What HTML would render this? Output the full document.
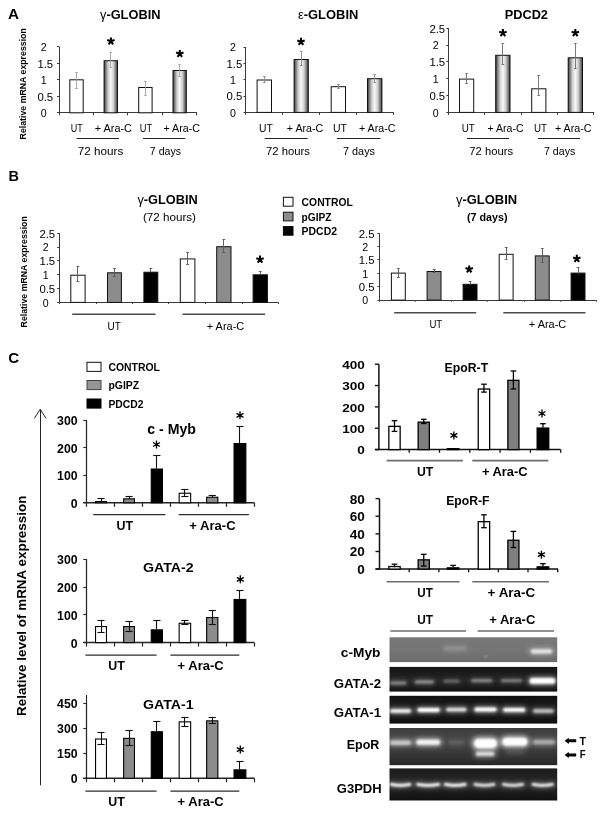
<!DOCTYPE html>
<html><head><meta charset="utf-8"><title>Figure</title>
<style>
html,body{margin:0;padding:0;background:#fff;}
body{width:604px;height:815px;overflow:hidden;font-family:"Liberation Sans",sans-serif;}
svg{display:block;font-family:"Liberation Sans",sans-serif;opacity:0.999;}
</style></head><body>
<svg width="604" height="815" viewBox="0 0 604 815">
<defs>
<linearGradient id="gb" x1="0" x2="1" y1="0" y2="0">
<stop offset="0" stop-color="#303030"/><stop offset="0.1" stop-color="#707070"/><stop offset="0.3" stop-color="#cfcfcf"/><stop offset="0.5" stop-color="#f8f8f8"/><stop offset="0.7" stop-color="#cfcfcf"/><stop offset="0.9" stop-color="#707070"/><stop offset="1" stop-color="#303030"/>
</linearGradient>
<filter id="b1" filterUnits="userSpaceOnUse" x="380" y="630" width="190" height="180"><feGaussianBlur stdDeviation="1.3 0.9"/></filter>
<filter id="b2" filterUnits="userSpaceOnUse" x="380" y="630" width="190" height="180"><feGaussianBlur stdDeviation="1.8 1.3"/></filter>
<filter id="b3" filterUnits="userSpaceOnUse" x="380" y="630" width="190" height="180"><feGaussianBlur stdDeviation="2.4 1.9"/></filter>
<linearGradient id="ge" x1="0" x2="0" y1="0" y2="1">
<stop offset="0" stop-color="#3e3e3e"/><stop offset="0.35" stop-color="#474747"/><stop offset="0.75" stop-color="#343434"/><stop offset="1" stop-color="#262626"/>
</linearGradient>
<linearGradient id="gs1" x1="0" x2="0" y1="0" y2="1">
<stop offset="0" stop-color="#787878"/><stop offset="0.5" stop-color="#757575"/><stop offset="1" stop-color="#6c6c6c"/>
</linearGradient>
<linearGradient id="gs2" x1="0" x2="0" y1="0" y2="1">
<stop offset="0" stop-color="#141414"/><stop offset="0.55" stop-color="#242424"/><stop offset="1" stop-color="#131313"/>
</linearGradient>
<linearGradient id="gs3" x1="0" x2="0" y1="0" y2="1">
<stop offset="0" stop-color="#101010"/><stop offset="0.5" stop-color="#1e1e1e"/><stop offset="1" stop-color="#0e0e0e"/>
</linearGradient>
<linearGradient id="gs5" x1="0" x2="0" y1="0" y2="1">
<stop offset="0" stop-color="#1a1a1a"/><stop offset="0.5" stop-color="#2a2a2a"/><stop offset="1" stop-color="#0f0f0f"/>
</linearGradient>
</defs>
<rect x="0" y="0" width="604" height="815" fill="#ffffff"/>

<text x="8.00" y="19.20" font-size="14.7" font-weight="bold" text-anchor="start" textLength="11.00" lengthAdjust="spacingAndGlyphs" fill="#000" >A</text>
<text x="8.60" y="181.40" font-size="14.7" font-weight="bold" text-anchor="start" textLength="10.50" lengthAdjust="spacingAndGlyphs" fill="#000" >B</text>
<text x="8.30" y="363.00" font-size="14.7" font-weight="bold" text-anchor="start" textLength="10.90" lengthAdjust="spacingAndGlyphs" fill="#000" >C</text>
<line x1="59.50" y1="46.60" x2="59.50" y2="112.80" stroke="#3a3a3a" stroke-width="1" />
<line x1="59.00" y1="112.50" x2="197.00" y2="112.50" stroke="#3a3a3a" stroke-width="1" />
<line x1="57.00" y1="112.50" x2="59.00" y2="112.50" stroke="#3a3a3a" stroke-width="1" />
<text x="40.80" y="117.15" font-size="10.9" text-anchor="start" textLength="5.90" lengthAdjust="spacingAndGlyphs" fill="#000" >0</text>
<line x1="57.00" y1="96.50" x2="59.00" y2="96.50" stroke="#3a3a3a" stroke-width="1" />
<text x="37.40" y="100.60" font-size="10.9" text-anchor="start" textLength="15.80" lengthAdjust="spacingAndGlyphs" fill="#000" >0.5</text>
<line x1="57.00" y1="79.50" x2="59.00" y2="79.50" stroke="#3a3a3a" stroke-width="1" />
<text x="40.80" y="84.05" font-size="10.9" text-anchor="start" textLength="5.90" lengthAdjust="spacingAndGlyphs" fill="#000" >1</text>
<line x1="57.00" y1="63.50" x2="59.00" y2="63.50" stroke="#3a3a3a" stroke-width="1" />
<text x="37.40" y="67.50" font-size="10.9" text-anchor="start" textLength="15.80" lengthAdjust="spacingAndGlyphs" fill="#000" >1.5</text>
<line x1="57.00" y1="46.50" x2="59.00" y2="46.50" stroke="#3a3a3a" stroke-width="1" />
<text x="40.80" y="50.95" font-size="10.9" text-anchor="start" textLength="5.90" lengthAdjust="spacingAndGlyphs" fill="#000" >2</text>
<line x1="59.50" y1="112.80" x2="59.50" y2="115.30" stroke="#3a3a3a" stroke-width="1" />
<line x1="93.50" y1="112.80" x2="93.50" y2="115.30" stroke="#3a3a3a" stroke-width="1" />
<line x1="127.50" y1="112.80" x2="127.50" y2="115.30" stroke="#3a3a3a" stroke-width="1" />
<line x1="162.50" y1="112.80" x2="162.50" y2="115.30" stroke="#3a3a3a" stroke-width="1" />
<line x1="196.50" y1="112.80" x2="196.50" y2="115.30" stroke="#3a3a3a" stroke-width="1" />
<rect x="69.80" y="79.80" width="13.40" height="33.00" fill="#fff" stroke="#111" stroke-width="1" />
<line x1="76.50" y1="72.10" x2="76.50" y2="88.90" stroke="#a2a2a2" stroke-width="0.9" />
<line x1="75.20" y1="72.50" x2="77.80" y2="72.50" stroke="#a2a2a2" stroke-width="0.9" />
<line x1="75.20" y1="88.50" x2="77.80" y2="88.50" stroke="#a2a2a2" stroke-width="0.9" />
<rect x="104.10" y="60.70" width="13.40" height="52.10" fill="url(#gb)" stroke="#111" stroke-width="1" />
<line x1="110.50" y1="52.30" x2="110.50" y2="67.50" stroke="#a2a2a2" stroke-width="0.9" />
<line x1="109.50" y1="52.50" x2="112.10" y2="52.50" stroke="#a2a2a2" stroke-width="0.9" />
<line x1="109.50" y1="67.50" x2="112.10" y2="67.50" stroke="#a2a2a2" stroke-width="0.9" />
<rect x="138.70" y="87.50" width="13.40" height="25.30" fill="#fff" stroke="#111" stroke-width="1" />
<line x1="145.50" y1="81.80" x2="145.50" y2="95.00" stroke="#a2a2a2" stroke-width="0.9" />
<line x1="144.10" y1="81.50" x2="146.70" y2="81.50" stroke="#a2a2a2" stroke-width="0.9" />
<line x1="144.10" y1="95.50" x2="146.70" y2="95.50" stroke="#a2a2a2" stroke-width="0.9" />
<rect x="173.00" y="70.50" width="13.30" height="42.30" fill="url(#gb)" stroke="#111" stroke-width="1" />
<line x1="179.50" y1="64.60" x2="179.50" y2="76.80" stroke="#a2a2a2" stroke-width="0.9" />
<line x1="178.35" y1="64.50" x2="180.95" y2="64.50" stroke="#a2a2a2" stroke-width="0.9" />
<line x1="178.35" y1="76.50" x2="180.95" y2="76.50" stroke="#a2a2a2" stroke-width="0.9" />
<text x="70.80" y="131.70" font-size="10.3" text-anchor="start" textLength="12.00" lengthAdjust="spacingAndGlyphs" fill="#000" >UT</text>
<text x="94.70" y="131.70" font-size="10.3" text-anchor="start" textLength="37.30" lengthAdjust="spacingAndGlyphs" fill="#000" >+ Ara-C</text>
<text x="139.80" y="131.70" font-size="10.3" text-anchor="start" textLength="12.40" lengthAdjust="spacingAndGlyphs" fill="#000" >UT</text>
<text x="163.40" y="131.70" font-size="10.3" text-anchor="start" textLength="36.60" lengthAdjust="spacingAndGlyphs" fill="#000" >+ Ara-C</text>
<line x1="76.80" y1="138.50" x2="119.00" y2="138.50" stroke="#222" stroke-width="1" />
<line x1="143.00" y1="138.50" x2="185.30" y2="138.50" stroke="#222" stroke-width="1" />
<text x="77.80" y="154.50" font-size="10.3" text-anchor="start" textLength="45.50" lengthAdjust="spacingAndGlyphs" fill="#000" >72 hours</text>
<text x="149.80" y="154.50" font-size="10.3" text-anchor="start" textLength="31.20" lengthAdjust="spacingAndGlyphs" fill="#000" >7 days</text>
<text x="100.00" y="19.10" font-size="12.6" font-weight="bold" text-anchor="start" textLength="60.50" lengthAdjust="spacingAndGlyphs" fill="#000" ><tspan font-weight="normal">&#947;</tspan>-GLOBIN</text>
<path d="M110.90,41.30L110.90,37.40M110.90,41.30L114.61,40.09M110.90,41.30L113.19,44.46M110.90,41.30L108.61,44.46M110.90,41.30L107.19,40.09" stroke="#000" stroke-width="2.05" stroke-linecap="butt" fill="none"/>
<path d="M179.80,53.80L179.80,49.90M179.80,53.80L183.51,52.59M179.80,53.80L182.09,56.96M179.80,53.80L177.51,56.96M179.80,53.80L176.09,52.59" stroke="#000" stroke-width="2.05" stroke-linecap="butt" fill="none"/>
<line x1="245.50" y1="47.00" x2="245.50" y2="112.40" stroke="#3a3a3a" stroke-width="1" />
<line x1="245.50" y1="112.50" x2="393.70" y2="112.50" stroke="#3a3a3a" stroke-width="1" />
<line x1="243.50" y1="112.50" x2="245.50" y2="112.50" stroke="#3a3a3a" stroke-width="1" />
<text x="229.90" y="116.75" font-size="10.9" text-anchor="start" textLength="5.90" lengthAdjust="spacingAndGlyphs" fill="#000" >0</text>
<line x1="243.50" y1="96.50" x2="245.50" y2="96.50" stroke="#3a3a3a" stroke-width="1" />
<text x="226.50" y="100.40" font-size="10.9" text-anchor="start" textLength="15.80" lengthAdjust="spacingAndGlyphs" fill="#000" >0.5</text>
<line x1="243.50" y1="79.50" x2="245.50" y2="79.50" stroke="#3a3a3a" stroke-width="1" />
<text x="229.90" y="84.05" font-size="10.9" text-anchor="start" textLength="5.90" lengthAdjust="spacingAndGlyphs" fill="#000" >1</text>
<line x1="243.50" y1="63.50" x2="245.50" y2="63.50" stroke="#3a3a3a" stroke-width="1" />
<text x="226.50" y="67.70" font-size="10.9" text-anchor="start" textLength="15.80" lengthAdjust="spacingAndGlyphs" fill="#000" >1.5</text>
<line x1="243.50" y1="47.50" x2="245.50" y2="47.50" stroke="#3a3a3a" stroke-width="1" />
<text x="229.90" y="51.35" font-size="10.9" text-anchor="start" textLength="5.90" lengthAdjust="spacingAndGlyphs" fill="#000" >2</text>
<line x1="245.50" y1="112.40" x2="245.50" y2="114.90" stroke="#3a3a3a" stroke-width="1" />
<line x1="282.50" y1="112.40" x2="282.50" y2="114.90" stroke="#3a3a3a" stroke-width="1" />
<line x1="319.50" y1="112.40" x2="319.50" y2="114.90" stroke="#3a3a3a" stroke-width="1" />
<line x1="356.50" y1="112.40" x2="356.50" y2="114.90" stroke="#3a3a3a" stroke-width="1" />
<line x1="393.50" y1="112.40" x2="393.50" y2="114.90" stroke="#3a3a3a" stroke-width="1" />
<rect x="257.10" y="80.00" width="14.40" height="32.40" fill="#fff" stroke="#111" stroke-width="1" />
<line x1="264.50" y1="76.50" x2="264.50" y2="82.50" stroke="#8a8a8a" stroke-width="0.9" />
<line x1="263.00" y1="76.50" x2="265.60" y2="76.50" stroke="#8a8a8a" stroke-width="0.9" />
<line x1="263.00" y1="82.50" x2="265.60" y2="82.50" stroke="#8a8a8a" stroke-width="0.9" />
<rect x="294.10" y="59.50" width="14.20" height="52.90" fill="url(#gb)" stroke="#111" stroke-width="1" />
<line x1="301.50" y1="51.50" x2="301.50" y2="65.00" stroke="#8a8a8a" stroke-width="0.9" />
<line x1="299.90" y1="51.50" x2="302.50" y2="51.50" stroke="#8a8a8a" stroke-width="0.9" />
<line x1="299.90" y1="65.50" x2="302.50" y2="65.50" stroke="#8a8a8a" stroke-width="0.9" />
<rect x="331.20" y="86.70" width="14.30" height="25.70" fill="#fff" stroke="#111" stroke-width="1" />
<line x1="338.50" y1="84.00" x2="338.50" y2="88.50" stroke="#8a8a8a" stroke-width="0.9" />
<line x1="337.05" y1="84.50" x2="339.65" y2="84.50" stroke="#8a8a8a" stroke-width="0.9" />
<line x1="337.05" y1="88.50" x2="339.65" y2="88.50" stroke="#8a8a8a" stroke-width="0.9" />
<rect x="367.50" y="78.70" width="14.40" height="33.70" fill="url(#gb)" stroke="#111" stroke-width="1" />
<line x1="374.50" y1="74.00" x2="374.50" y2="82.00" stroke="#8a8a8a" stroke-width="0.9" />
<line x1="373.40" y1="74.50" x2="376.00" y2="74.50" stroke="#8a8a8a" stroke-width="0.9" />
<line x1="373.40" y1="82.50" x2="376.00" y2="82.50" stroke="#8a8a8a" stroke-width="0.9" />
<text x="259.00" y="131.70" font-size="10.3" text-anchor="start" textLength="13.80" lengthAdjust="spacingAndGlyphs" fill="#000" >UT</text>
<text x="286.80" y="131.70" font-size="10.3" text-anchor="start" textLength="36.40" lengthAdjust="spacingAndGlyphs" fill="#000" >+ Ara-C</text>
<text x="333.00" y="131.70" font-size="10.3" text-anchor="start" textLength="14.00" lengthAdjust="spacingAndGlyphs" fill="#000" >UT</text>
<text x="359.00" y="131.70" font-size="10.3" text-anchor="start" textLength="36.40" lengthAdjust="spacingAndGlyphs" fill="#000" >+ Ara-C</text>
<line x1="264.60" y1="138.50" x2="307.60" y2="138.50" stroke="#222" stroke-width="1" />
<line x1="336.80" y1="138.50" x2="380.50" y2="138.50" stroke="#222" stroke-width="1" />
<text x="266.00" y="154.50" font-size="10.3" text-anchor="start" textLength="44.00" lengthAdjust="spacingAndGlyphs" fill="#000" >72 hours</text>
<text x="343.00" y="154.50" font-size="10.3" text-anchor="start" textLength="32.00" lengthAdjust="spacingAndGlyphs" fill="#000" >7 days</text>
<text x="298.00" y="19.10" font-size="12.6" font-weight="bold" text-anchor="start" textLength="60.30" lengthAdjust="spacingAndGlyphs" fill="#000" ><tspan font-weight="normal">&#949;</tspan>-GLOBIN</text>
<path d="M301.00,41.70L301.00,37.80M301.00,41.70L304.71,40.49M301.00,41.70L303.29,44.86M301.00,41.70L298.71,44.86M301.00,41.70L297.29,40.49" stroke="#000" stroke-width="2.05" stroke-linecap="butt" fill="none"/>
<line x1="448.50" y1="28.20" x2="448.50" y2="112.40" stroke="#3a3a3a" stroke-width="1" />
<line x1="448.40" y1="112.50" x2="594.20" y2="112.50" stroke="#3a3a3a" stroke-width="1" />
<line x1="446.40" y1="112.50" x2="448.40" y2="112.50" stroke="#3a3a3a" stroke-width="1" />
<text x="432.80" y="116.75" font-size="10.9" text-anchor="start" textLength="5.90" lengthAdjust="spacingAndGlyphs" fill="#000" >0</text>
<line x1="446.40" y1="95.50" x2="448.40" y2="95.50" stroke="#3a3a3a" stroke-width="1" />
<text x="429.40" y="99.91" font-size="10.9" text-anchor="start" textLength="15.80" lengthAdjust="spacingAndGlyphs" fill="#000" >0.5</text>
<line x1="446.40" y1="78.50" x2="448.40" y2="78.50" stroke="#3a3a3a" stroke-width="1" />
<text x="432.80" y="83.07" font-size="10.9" text-anchor="start" textLength="5.90" lengthAdjust="spacingAndGlyphs" fill="#000" >1</text>
<line x1="446.40" y1="61.50" x2="448.40" y2="61.50" stroke="#3a3a3a" stroke-width="1" />
<text x="429.40" y="66.23" font-size="10.9" text-anchor="start" textLength="15.80" lengthAdjust="spacingAndGlyphs" fill="#000" >1.5</text>
<line x1="446.40" y1="45.50" x2="448.40" y2="45.50" stroke="#3a3a3a" stroke-width="1" />
<text x="432.80" y="49.39" font-size="10.9" text-anchor="start" textLength="5.90" lengthAdjust="spacingAndGlyphs" fill="#000" >2</text>
<line x1="446.40" y1="28.50" x2="448.40" y2="28.50" stroke="#3a3a3a" stroke-width="1" />
<text x="429.40" y="32.55" font-size="10.9" text-anchor="start" textLength="15.80" lengthAdjust="spacingAndGlyphs" fill="#000" >2.5</text>
<line x1="448.50" y1="112.40" x2="448.50" y2="114.90" stroke="#3a3a3a" stroke-width="1" />
<line x1="484.50" y1="112.40" x2="484.50" y2="114.90" stroke="#3a3a3a" stroke-width="1" />
<line x1="521.50" y1="112.40" x2="521.50" y2="114.90" stroke="#3a3a3a" stroke-width="1" />
<line x1="557.50" y1="112.40" x2="557.50" y2="114.90" stroke="#3a3a3a" stroke-width="1" />
<line x1="593.50" y1="112.40" x2="593.50" y2="114.90" stroke="#3a3a3a" stroke-width="1" />
<rect x="459.50" y="79.10" width="14.20" height="33.30" fill="#fff" stroke="#111" stroke-width="1" />
<line x1="466.50" y1="73.00" x2="466.50" y2="83.80" stroke="#6c6c6c" stroke-width="0.9" />
<line x1="465.30" y1="73.50" x2="467.90" y2="73.50" stroke="#6c6c6c" stroke-width="0.9" />
<line x1="465.30" y1="83.50" x2="467.90" y2="83.50" stroke="#6c6c6c" stroke-width="0.9" />
<rect x="495.70" y="55.30" width="14.30" height="57.10" fill="url(#gb)" stroke="#111" stroke-width="1" />
<line x1="502.50" y1="43.60" x2="502.50" y2="64.00" stroke="#6c6c6c" stroke-width="0.9" />
<line x1="501.55" y1="43.50" x2="504.15" y2="43.50" stroke="#6c6c6c" stroke-width="0.9" />
<line x1="501.55" y1="64.50" x2="504.15" y2="64.50" stroke="#6c6c6c" stroke-width="0.9" />
<rect x="531.70" y="88.80" width="14.20" height="23.60" fill="#fff" stroke="#111" stroke-width="1" />
<line x1="538.50" y1="75.00" x2="538.50" y2="95.00" stroke="#6c6c6c" stroke-width="0.9" />
<line x1="537.50" y1="75.50" x2="540.10" y2="75.50" stroke="#6c6c6c" stroke-width="0.9" />
<line x1="537.50" y1="95.50" x2="540.10" y2="95.50" stroke="#6c6c6c" stroke-width="0.9" />
<rect x="568.20" y="57.80" width="14.30" height="54.60" fill="url(#gb)" stroke="#111" stroke-width="1" />
<line x1="575.50" y1="43.60" x2="575.50" y2="68.50" stroke="#6c6c6c" stroke-width="0.9" />
<line x1="574.05" y1="43.50" x2="576.65" y2="43.50" stroke="#6c6c6c" stroke-width="0.9" />
<line x1="574.05" y1="68.50" x2="576.65" y2="68.50" stroke="#6c6c6c" stroke-width="0.9" />
<text x="461.70" y="131.70" font-size="10.3" text-anchor="start" textLength="13.10" lengthAdjust="spacingAndGlyphs" fill="#000" >UT</text>
<text x="487.60" y="131.70" font-size="10.3" text-anchor="start" textLength="36.00" lengthAdjust="spacingAndGlyphs" fill="#000" >+ Ara-C</text>
<text x="534.00" y="131.70" font-size="10.3" text-anchor="start" textLength="13.00" lengthAdjust="spacingAndGlyphs" fill="#000" >UT</text>
<text x="555.00" y="131.70" font-size="10.3" text-anchor="start" textLength="36.50" lengthAdjust="spacingAndGlyphs" fill="#000" >+ Ara-C</text>
<line x1="467.00" y1="138.50" x2="509.00" y2="138.50" stroke="#222" stroke-width="1" />
<line x1="538.00" y1="138.50" x2="580.00" y2="138.50" stroke="#222" stroke-width="1" />
<text x="469.30" y="154.50" font-size="10.3" text-anchor="start" textLength="43.70" lengthAdjust="spacingAndGlyphs" fill="#000" >72 hours</text>
<text x="544.00" y="154.50" font-size="10.3" text-anchor="start" textLength="31.30" lengthAdjust="spacingAndGlyphs" fill="#000" >7 days</text>
<text x="504.70" y="18.60" font-size="12.6" font-weight="bold" text-anchor="start" textLength="43.30" lengthAdjust="spacingAndGlyphs" fill="#000" >PDCD2</text>
<path d="M502.90,32.90L502.90,29.00M502.90,32.90L506.61,31.69M502.90,32.90L505.19,36.06M502.90,32.90L500.61,36.06M502.90,32.90L499.19,31.69" stroke="#000" stroke-width="2.05" stroke-linecap="butt" fill="none"/>
<path d="M575.30,32.90L575.30,29.00M575.30,32.90L579.01,31.69M575.30,32.90L577.59,36.06M575.30,32.90L573.01,36.06M575.30,32.90L571.59,31.69" stroke="#000" stroke-width="2.05" stroke-linecap="butt" fill="none"/>
<text transform="translate(26.30,139.40) rotate(-90)" font-size="8.7" font-weight="bold" textLength="111.20" lengthAdjust="spacingAndGlyphs" fill="#000">Relative mRNA expression</text>
<text transform="translate(27.00,327.40) rotate(-90)" font-size="8.7" font-weight="bold" textLength="111.20" lengthAdjust="spacingAndGlyphs" fill="#000">Relative mRNA expression</text>
<line x1="59.50" y1="233.20" x2="59.50" y2="302.40" stroke="#3a3a3a" stroke-width="1" />
<line x1="59.20" y1="302.50" x2="278.50" y2="302.50" stroke="#3a3a3a" stroke-width="1" />
<line x1="57.20" y1="302.50" x2="59.20" y2="302.50" stroke="#3a3a3a" stroke-width="1" />
<text x="42.80" y="306.75" font-size="10.9" text-anchor="start" textLength="5.90" lengthAdjust="spacingAndGlyphs" fill="#000" >0</text>
<line x1="57.20" y1="288.50" x2="59.20" y2="288.50" stroke="#3a3a3a" stroke-width="1" />
<text x="39.40" y="292.91" font-size="10.9" text-anchor="start" textLength="15.80" lengthAdjust="spacingAndGlyphs" fill="#000" >0.5</text>
<line x1="57.20" y1="274.50" x2="59.20" y2="274.50" stroke="#3a3a3a" stroke-width="1" />
<text x="42.80" y="279.07" font-size="10.9" text-anchor="start" textLength="5.90" lengthAdjust="spacingAndGlyphs" fill="#000" >1</text>
<line x1="57.20" y1="260.50" x2="59.20" y2="260.50" stroke="#3a3a3a" stroke-width="1" />
<text x="39.40" y="265.23" font-size="10.9" text-anchor="start" textLength="15.80" lengthAdjust="spacingAndGlyphs" fill="#000" >1.5</text>
<line x1="57.20" y1="247.50" x2="59.20" y2="247.50" stroke="#3a3a3a" stroke-width="1" />
<text x="42.80" y="251.39" font-size="10.9" text-anchor="start" textLength="5.90" lengthAdjust="spacingAndGlyphs" fill="#000" >2</text>
<line x1="57.20" y1="233.50" x2="59.20" y2="233.50" stroke="#3a3a3a" stroke-width="1" />
<text x="39.40" y="237.55" font-size="10.9" text-anchor="start" textLength="15.80" lengthAdjust="spacingAndGlyphs" fill="#000" >2.5</text>
<line x1="59.50" y1="302.40" x2="59.50" y2="304.00" stroke="#3a3a3a" stroke-width="1" />
<line x1="96.50" y1="302.40" x2="96.50" y2="304.00" stroke="#3a3a3a" stroke-width="1" />
<line x1="132.50" y1="302.40" x2="132.50" y2="304.00" stroke="#3a3a3a" stroke-width="1" />
<line x1="168.50" y1="302.40" x2="168.50" y2="304.00" stroke="#3a3a3a" stroke-width="1" />
<line x1="205.50" y1="302.40" x2="205.50" y2="304.00" stroke="#3a3a3a" stroke-width="1" />
<line x1="242.50" y1="302.40" x2="242.50" y2="304.00" stroke="#3a3a3a" stroke-width="1" />
<line x1="278.50" y1="302.40" x2="278.50" y2="304.00" stroke="#3a3a3a" stroke-width="1" />
<rect x="70.80" y="275.20" width="14.30" height="27.20" fill="#fff" stroke="#111" stroke-width="1" />
<line x1="77.50" y1="266.00" x2="77.50" y2="281.00" stroke="#5c5c5c" stroke-width="0.95" />
<line x1="76.55" y1="266.50" x2="79.35" y2="266.50" stroke="#5c5c5c" stroke-width="0.95" />
<line x1="76.55" y1="281.50" x2="79.35" y2="281.50" stroke="#5c5c5c" stroke-width="0.95" />
<rect x="107.50" y="272.80" width="13.90" height="29.60" fill="#8c8c8c" stroke="#111" stroke-width="1" />
<line x1="114.50" y1="268.50" x2="114.50" y2="276.00" stroke="#5c5c5c" stroke-width="0.95" />
<line x1="113.05" y1="268.50" x2="115.85" y2="268.50" stroke="#5c5c5c" stroke-width="0.95" />
<line x1="113.05" y1="276.50" x2="115.85" y2="276.50" stroke="#5c5c5c" stroke-width="0.95" />
<rect x="143.90" y="272.20" width="13.90" height="30.20" fill="#000" stroke="#111" stroke-width="1" />
<line x1="150.50" y1="268.30" x2="150.50" y2="272.00" stroke="#5c5c5c" stroke-width="0.95" />
<line x1="149.45" y1="268.50" x2="152.25" y2="268.50" stroke="#5c5c5c" stroke-width="0.95" />
<rect x="180.30" y="258.90" width="14.60" height="43.50" fill="#fff" stroke="#111" stroke-width="1" />
<line x1="187.50" y1="252.50" x2="187.50" y2="264.50" stroke="#5c5c5c" stroke-width="0.95" />
<line x1="186.20" y1="252.50" x2="189.00" y2="252.50" stroke="#5c5c5c" stroke-width="0.95" />
<line x1="186.20" y1="264.50" x2="189.00" y2="264.50" stroke="#5c5c5c" stroke-width="0.95" />
<rect x="216.70" y="246.70" width="14.30" height="55.70" fill="#8c8c8c" stroke="#111" stroke-width="1" />
<line x1="223.50" y1="239.50" x2="223.50" y2="252.00" stroke="#5c5c5c" stroke-width="0.95" />
<line x1="222.45" y1="239.50" x2="225.25" y2="239.50" stroke="#5c5c5c" stroke-width="0.95" />
<line x1="222.45" y1="252.50" x2="225.25" y2="252.50" stroke="#5c5c5c" stroke-width="0.95" />
<rect x="253.10" y="274.80" width="14.30" height="27.60" fill="#000" stroke="#111" stroke-width="1" />
<line x1="260.50" y1="271.30" x2="260.50" y2="275.00" stroke="#5c5c5c" stroke-width="0.95" />
<line x1="258.85" y1="271.50" x2="261.65" y2="271.50" stroke="#5c5c5c" stroke-width="0.95" />
<line x1="72.20" y1="314.30" x2="155.60" y2="314.30" stroke="#4a4a4a" stroke-width="1.4" />
<line x1="182.50" y1="314.30" x2="265.00" y2="314.30" stroke="#4a4a4a" stroke-width="1.4" />
<text x="107.60" y="329.60" font-size="10.3" text-anchor="start" textLength="13.30" lengthAdjust="spacingAndGlyphs" fill="#000" >UT</text>
<text x="206.80" y="329.60" font-size="10.3" text-anchor="start" textLength="37.40" lengthAdjust="spacingAndGlyphs" fill="#000" >+ Ara-C</text>
<path d="M260.00,259.40L260.00,255.50M260.00,259.40L263.71,258.19M260.00,259.40L262.29,262.56M260.00,259.40L257.71,262.56M260.00,259.40L256.29,258.19" stroke="#000" stroke-width="2.05" stroke-linecap="butt" fill="none"/>
<text x="137.40" y="204.30" font-size="12.6" font-weight="bold" text-anchor="start" textLength="60.30" lengthAdjust="spacingAndGlyphs" fill="#000" ><tspan font-weight="normal">&#947;</tspan>-GLOBIN</text>
<text x="143.00" y="221.00" font-size="10.6" text-anchor="start" textLength="53.00" lengthAdjust="spacingAndGlyphs" fill="#000" >(72 hours)</text>
<line x1="379.50" y1="233.20" x2="379.50" y2="300.10" stroke="#3a3a3a" stroke-width="1" />
<line x1="379.40" y1="300.50" x2="596.00" y2="300.50" stroke="#3a3a3a" stroke-width="1" />
<line x1="377.40" y1="300.50" x2="379.40" y2="300.50" stroke="#3a3a3a" stroke-width="1" />
<text x="362.20" y="304.45" font-size="10.9" text-anchor="start" textLength="5.90" lengthAdjust="spacingAndGlyphs" fill="#000" >0</text>
<line x1="377.40" y1="286.50" x2="379.40" y2="286.50" stroke="#3a3a3a" stroke-width="1" />
<text x="358.80" y="291.07" font-size="10.9" text-anchor="start" textLength="15.80" lengthAdjust="spacingAndGlyphs" fill="#000" >0.5</text>
<line x1="377.40" y1="273.50" x2="379.40" y2="273.50" stroke="#3a3a3a" stroke-width="1" />
<text x="362.20" y="277.69" font-size="10.9" text-anchor="start" textLength="5.90" lengthAdjust="spacingAndGlyphs" fill="#000" >1</text>
<line x1="377.40" y1="259.50" x2="379.40" y2="259.50" stroke="#3a3a3a" stroke-width="1" />
<text x="358.80" y="264.31" font-size="10.9" text-anchor="start" textLength="15.80" lengthAdjust="spacingAndGlyphs" fill="#000" >1.5</text>
<line x1="377.40" y1="246.50" x2="379.40" y2="246.50" stroke="#3a3a3a" stroke-width="1" />
<text x="362.20" y="250.93" font-size="10.9" text-anchor="start" textLength="5.90" lengthAdjust="spacingAndGlyphs" fill="#000" >2</text>
<line x1="377.40" y1="233.50" x2="379.40" y2="233.50" stroke="#3a3a3a" stroke-width="1" />
<text x="358.80" y="237.55" font-size="10.9" text-anchor="start" textLength="15.80" lengthAdjust="spacingAndGlyphs" fill="#000" >2.5</text>
<line x1="379.50" y1="300.10" x2="379.50" y2="301.70" stroke="#3a3a3a" stroke-width="1" />
<line x1="415.50" y1="300.10" x2="415.50" y2="301.70" stroke="#3a3a3a" stroke-width="1" />
<line x1="451.50" y1="300.10" x2="451.50" y2="301.70" stroke="#3a3a3a" stroke-width="1" />
<line x1="487.50" y1="300.10" x2="487.50" y2="301.70" stroke="#3a3a3a" stroke-width="1" />
<line x1="524.50" y1="300.10" x2="524.50" y2="301.70" stroke="#3a3a3a" stroke-width="1" />
<line x1="560.50" y1="300.10" x2="560.50" y2="301.70" stroke="#3a3a3a" stroke-width="1" />
<line x1="596.50" y1="300.10" x2="596.50" y2="301.70" stroke="#3a3a3a" stroke-width="1" />
<rect x="391.40" y="273.10" width="13.90" height="27.00" fill="#fff" stroke="#111" stroke-width="1" />
<line x1="398.50" y1="268.50" x2="398.50" y2="277.00" stroke="#5c5c5c" stroke-width="0.95" />
<line x1="396.95" y1="268.50" x2="399.75" y2="268.50" stroke="#5c5c5c" stroke-width="0.95" />
<line x1="396.95" y1="277.50" x2="399.75" y2="277.50" stroke="#5c5c5c" stroke-width="0.95" />
<rect x="427.10" y="271.50" width="13.90" height="28.60" fill="#8c8c8c" stroke="#111" stroke-width="1" />
<line x1="434.50" y1="269.30" x2="434.50" y2="272.70" stroke="#5c5c5c" stroke-width="0.95" />
<line x1="432.65" y1="269.50" x2="435.45" y2="269.50" stroke="#5c5c5c" stroke-width="0.95" />
<line x1="432.65" y1="272.50" x2="435.45" y2="272.50" stroke="#5c5c5c" stroke-width="0.95" />
<rect x="463.10" y="284.30" width="13.90" height="15.80" fill="#000" stroke="#111" stroke-width="1" />
<line x1="470.50" y1="281.00" x2="470.50" y2="285.00" stroke="#5c5c5c" stroke-width="0.95" />
<line x1="468.65" y1="281.50" x2="471.45" y2="281.50" stroke="#5c5c5c" stroke-width="0.95" />
<rect x="499.20" y="254.30" width="13.90" height="45.80" fill="#fff" stroke="#111" stroke-width="1" />
<line x1="506.50" y1="247.50" x2="506.50" y2="259.50" stroke="#5c5c5c" stroke-width="0.95" />
<line x1="504.75" y1="247.50" x2="507.55" y2="247.50" stroke="#5c5c5c" stroke-width="0.95" />
<line x1="504.75" y1="259.50" x2="507.55" y2="259.50" stroke="#5c5c5c" stroke-width="0.95" />
<rect x="535.30" y="255.90" width="13.90" height="44.20" fill="#8c8c8c" stroke="#111" stroke-width="1" />
<line x1="542.50" y1="248.00" x2="542.50" y2="262.50" stroke="#5c5c5c" stroke-width="0.95" />
<line x1="540.85" y1="248.50" x2="543.65" y2="248.50" stroke="#5c5c5c" stroke-width="0.95" />
<line x1="540.85" y1="262.50" x2="543.65" y2="262.50" stroke="#5c5c5c" stroke-width="0.95" />
<rect x="571.10" y="273.10" width="13.90" height="27.00" fill="#000" stroke="#111" stroke-width="1" />
<line x1="578.50" y1="267.50" x2="578.50" y2="274.00" stroke="#5c5c5c" stroke-width="0.95" />
<line x1="576.65" y1="267.50" x2="579.45" y2="267.50" stroke="#5c5c5c" stroke-width="0.95" />
<line x1="394.20" y1="312.80" x2="476.20" y2="312.80" stroke="#4a4a4a" stroke-width="1.4" />
<line x1="503.30" y1="312.80" x2="585.50" y2="312.80" stroke="#4a4a4a" stroke-width="1.4" />
<text x="429.40" y="328.30" font-size="10.3" text-anchor="start" textLength="12.80" lengthAdjust="spacingAndGlyphs" fill="#000" >UT</text>
<text x="528.80" y="328.30" font-size="10.3" text-anchor="start" textLength="37.50" lengthAdjust="spacingAndGlyphs" fill="#000" >+ Ara-C</text>
<path d="M469.20,269.30L469.20,265.40M469.20,269.30L472.91,268.09M469.20,269.30L471.49,272.46M469.20,269.30L466.91,272.46M469.20,269.30L465.49,268.09" stroke="#000" stroke-width="2.05" stroke-linecap="butt" fill="none"/>
<path d="M576.80,258.70L576.80,254.80M576.80,258.70L580.51,257.49M576.80,258.70L579.09,261.86M576.80,258.70L574.51,261.86M576.80,258.70L573.09,257.49" stroke="#000" stroke-width="2.05" stroke-linecap="butt" fill="none"/>
<text x="456.00" y="204.30" font-size="12.6" font-weight="bold" text-anchor="start" textLength="61.20" lengthAdjust="spacingAndGlyphs" fill="#000" ><tspan font-weight="normal">&#947;</tspan>-GLOBIN</text>
<text x="467.00" y="220.80" font-size="10.3" font-weight="bold" text-anchor="start" textLength="40.60" lengthAdjust="spacingAndGlyphs" fill="#000" >(7 days)</text>
<rect x="283.40" y="197.30" width="9.60" height="8.90" fill="#fff" stroke="#111" stroke-width="1" />
<rect x="283.40" y="212.20" width="9.60" height="8.70" fill="#8c8c8c" stroke="#111" stroke-width="1" />
<rect x="283.40" y="226.60" width="9.60" height="8.60" fill="#000" stroke="#000" stroke-width="1" />
<text x="301.60" y="206.00" font-size="10.6" font-weight="bold" text-anchor="start" textLength="51.20" lengthAdjust="spacingAndGlyphs" fill="#000" >CONTROL</text>
<text x="301.60" y="220.60" font-size="10.6" font-weight="bold" text-anchor="start" textLength="30.00" lengthAdjust="spacingAndGlyphs" fill="#000" >pGIPZ</text>
<text x="301.60" y="235.30" font-size="10.6" font-weight="bold" text-anchor="start" textLength="35.40" lengthAdjust="spacingAndGlyphs" fill="#000" >PDCD2</text>
<rect x="87.00" y="362.30" width="14.00" height="9.10" fill="#fff" stroke="#111" stroke-width="1" />
<rect x="87.00" y="380.50" width="14.00" height="9.10" fill="#959595" stroke="#444" stroke-width="1" />
<rect x="87.00" y="399.00" width="14.00" height="9.10" fill="#000" stroke="#000" stroke-width="1" />
<text x="108.40" y="370.60" font-size="11.4" font-weight="bold" text-anchor="start" textLength="51.60" lengthAdjust="spacingAndGlyphs" fill="#000" >CONTROL</text>
<text x="108.40" y="388.80" font-size="11.4" font-weight="bold" text-anchor="start" textLength="30.80" lengthAdjust="spacingAndGlyphs" fill="#000" >pGIPZ</text>
<text x="108.40" y="407.50" font-size="11.4" font-weight="bold" text-anchor="start" textLength="35.00" lengthAdjust="spacingAndGlyphs" fill="#000" >PDCD2</text>
<line x1="40.50" y1="409.30" x2="40.50" y2="785.20" stroke="#222" stroke-width="1" />
<path d="M34.3,418.4 L40.2,409.3 L46,418.4" stroke="#222" stroke-width="1" fill="none"/>
<text transform="translate(25.70,716.00) rotate(-90)" font-size="12.6" font-weight="bold" textLength="220.40" lengthAdjust="spacingAndGlyphs" fill="#000">Relative level of mRNA expression</text>
<line x1="86.50" y1="420.20" x2="86.50" y2="502.80" stroke="#262626" stroke-width="1.25" />
<line x1="83.30" y1="502.80" x2="254.50" y2="502.80" stroke="#262626" stroke-width="1.5" />
<line x1="83.30" y1="502.50" x2="86.80" y2="502.50" stroke="#262626" stroke-width="1.1" />
<text x="77.60" y="507.70" font-size="12.3" font-weight="bold" text-anchor="end" fill="#000" >0</text>
<line x1="83.30" y1="475.50" x2="86.80" y2="475.50" stroke="#262626" stroke-width="1.1" />
<text x="77.60" y="480.17" font-size="12.3" font-weight="bold" text-anchor="end" fill="#000" >100</text>
<line x1="83.30" y1="447.50" x2="86.80" y2="447.50" stroke="#262626" stroke-width="1.1" />
<text x="77.60" y="452.63" font-size="12.3" font-weight="bold" text-anchor="end" fill="#000" >200</text>
<line x1="83.30" y1="420.50" x2="86.80" y2="420.50" stroke="#262626" stroke-width="1.1" />
<text x="77.60" y="425.10" font-size="12.3" font-weight="bold" text-anchor="end" fill="#000" >300</text>
<line x1="86.50" y1="502.80" x2="86.50" y2="506.80" stroke="#262626" stroke-width="1.2" />
<line x1="114.50" y1="502.80" x2="114.50" y2="506.80" stroke="#262626" stroke-width="1.2" />
<line x1="142.50" y1="502.80" x2="142.50" y2="506.80" stroke="#262626" stroke-width="1.2" />
<line x1="170.50" y1="502.80" x2="170.50" y2="506.80" stroke="#262626" stroke-width="1.2" />
<line x1="198.50" y1="502.80" x2="198.50" y2="506.80" stroke="#262626" stroke-width="1.2" />
<line x1="226.50" y1="502.80" x2="226.50" y2="506.80" stroke="#262626" stroke-width="1.2" />
<line x1="254.50" y1="502.80" x2="254.50" y2="506.80" stroke="#262626" stroke-width="1.2" />
<rect x="95.55" y="501.55" width="10.90" height="1.25" fill="#fff" stroke="#000" stroke-width="1.1" />
<line x1="101.50" y1="498.50" x2="101.50" y2="502.00" stroke="#111" stroke-width="1.1" />
<line x1="97.40" y1="498.50" x2="104.60" y2="498.50" stroke="#111" stroke-width="1.1" />
<rect x="123.65" y="498.85" width="10.80" height="3.95" fill="#8c8c8c" stroke="#000" stroke-width="1.1" />
<line x1="129.50" y1="496.50" x2="129.50" y2="499.00" stroke="#111" stroke-width="1.1" />
<line x1="125.45" y1="496.50" x2="132.65" y2="496.50" stroke="#111" stroke-width="1.1" />
<rect x="151.25" y="469.05" width="11.20" height="33.75" fill="#000" stroke="#000" stroke-width="1.1" />
<line x1="156.50" y1="455.60" x2="156.50" y2="468.50" stroke="#111" stroke-width="1.1" />
<line x1="153.25" y1="455.50" x2="160.45" y2="455.50" stroke="#111" stroke-width="1.1" />
<rect x="179.15" y="493.25" width="11.50" height="9.55" fill="#fff" stroke="#000" stroke-width="1.1" />
<line x1="184.50" y1="489.40" x2="184.50" y2="496.70" stroke="#111" stroke-width="1.1" />
<line x1="181.30" y1="489.50" x2="188.50" y2="489.50" stroke="#111" stroke-width="1.1" />
<line x1="181.30" y1="496.50" x2="188.50" y2="496.50" stroke="#111" stroke-width="1.1" />
<rect x="206.65" y="497.25" width="11.20" height="5.55" fill="#8c8c8c" stroke="#000" stroke-width="1.1" />
<line x1="212.50" y1="495.50" x2="212.50" y2="497.50" stroke="#111" stroke-width="1.1" />
<line x1="208.65" y1="495.50" x2="215.85" y2="495.50" stroke="#111" stroke-width="1.1" />
<rect x="234.05" y="443.55" width="11.80" height="59.25" fill="#000" stroke="#000" stroke-width="1.1" />
<line x1="239.50" y1="426.50" x2="239.50" y2="443.00" stroke="#111" stroke-width="1.1" />
<line x1="236.35" y1="426.50" x2="243.55" y2="426.50" stroke="#111" stroke-width="1.1" />
<line x1="93.20" y1="514.50" x2="165.40" y2="514.50" stroke="#2c2c2c" stroke-width="1.25" />
<line x1="178.70" y1="514.50" x2="248.90" y2="514.50" stroke="#2c2c2c" stroke-width="1.25" />
<text x="147.30" y="433.90" font-size="14" font-weight="bold" text-anchor="start" textLength="48.60" lengthAdjust="spacingAndGlyphs" fill="#000" >c - Myb</text>
<text x="116.40" y="529.70" font-size="13" font-weight="bold" text-anchor="start" textLength="16.60" lengthAdjust="spacingAndGlyphs" fill="#000" >UT</text>
<text x="189.30" y="529.70" font-size="13" font-weight="bold" text-anchor="start" textLength="46.30" lengthAdjust="spacingAndGlyphs" fill="#000" >+ Ara-C</text>
<path d="M156.50,444.50L156.50,440.50M156.50,444.50L159.96,442.50M156.50,444.50L159.96,446.50M156.50,444.50L156.50,448.50M156.50,444.50L153.04,446.50M156.50,444.50L153.04,442.50" stroke="#000" stroke-width="1.35" stroke-linecap="butt" fill="none"/>
<path d="M240.00,415.30L240.00,411.30M240.00,415.30L243.46,413.30M240.00,415.30L243.46,417.30M240.00,415.30L240.00,419.30M240.00,415.30L236.54,417.30M240.00,415.30L236.54,413.30" stroke="#000" stroke-width="1.35" stroke-linecap="butt" fill="none"/>
<line x1="86.50" y1="559.30" x2="86.50" y2="642.60" stroke="#262626" stroke-width="1.25" />
<line x1="83.30" y1="642.60" x2="254.50" y2="642.60" stroke="#262626" stroke-width="1.5" />
<line x1="83.30" y1="642.50" x2="86.80" y2="642.50" stroke="#262626" stroke-width="1.1" />
<text x="77.60" y="647.50" font-size="12.3" font-weight="bold" text-anchor="end" fill="#000" >0</text>
<line x1="83.30" y1="614.50" x2="86.80" y2="614.50" stroke="#262626" stroke-width="1.1" />
<text x="77.60" y="619.73" font-size="12.3" font-weight="bold" text-anchor="end" fill="#000" >100</text>
<line x1="83.30" y1="587.50" x2="86.80" y2="587.50" stroke="#262626" stroke-width="1.1" />
<text x="77.60" y="591.97" font-size="12.3" font-weight="bold" text-anchor="end" fill="#000" >200</text>
<line x1="83.30" y1="559.50" x2="86.80" y2="559.50" stroke="#262626" stroke-width="1.1" />
<text x="77.60" y="564.20" font-size="12.3" font-weight="bold" text-anchor="end" fill="#000" >300</text>
<line x1="86.50" y1="642.60" x2="86.50" y2="646.60" stroke="#262626" stroke-width="1.2" />
<line x1="114.50" y1="642.60" x2="114.50" y2="646.60" stroke="#262626" stroke-width="1.2" />
<line x1="142.50" y1="642.60" x2="142.50" y2="646.60" stroke="#262626" stroke-width="1.2" />
<line x1="170.50" y1="642.60" x2="170.50" y2="646.60" stroke="#262626" stroke-width="1.2" />
<line x1="198.50" y1="642.60" x2="198.50" y2="646.60" stroke="#262626" stroke-width="1.2" />
<line x1="226.50" y1="642.60" x2="226.50" y2="646.60" stroke="#262626" stroke-width="1.2" />
<line x1="254.50" y1="642.60" x2="254.50" y2="646.60" stroke="#262626" stroke-width="1.2" />
<rect x="95.55" y="626.55" width="10.90" height="16.05" fill="#fff" stroke="#000" stroke-width="1.1" />
<line x1="101.50" y1="620.00" x2="101.50" y2="632.60" stroke="#111" stroke-width="1.1" />
<line x1="97.40" y1="620.50" x2="104.60" y2="620.50" stroke="#111" stroke-width="1.1" />
<line x1="97.40" y1="632.50" x2="104.60" y2="632.50" stroke="#111" stroke-width="1.1" />
<rect x="123.65" y="626.55" width="10.80" height="16.05" fill="#8c8c8c" stroke="#000" stroke-width="1.1" />
<line x1="129.50" y1="621.00" x2="129.50" y2="631.00" stroke="#111" stroke-width="1.1" />
<line x1="125.45" y1="621.50" x2="132.65" y2="621.50" stroke="#111" stroke-width="1.1" />
<line x1="125.45" y1="631.50" x2="132.65" y2="631.50" stroke="#111" stroke-width="1.1" />
<rect x="151.25" y="629.85" width="11.20" height="12.75" fill="#000" stroke="#000" stroke-width="1.1" />
<line x1="156.50" y1="620.00" x2="156.50" y2="629.30" stroke="#111" stroke-width="1.1" />
<line x1="153.25" y1="620.50" x2="160.45" y2="620.50" stroke="#111" stroke-width="1.1" />
<rect x="179.15" y="623.25" width="11.50" height="19.35" fill="#fff" stroke="#000" stroke-width="1.1" />
<line x1="184.50" y1="620.80" x2="184.50" y2="624.30" stroke="#111" stroke-width="1.1" />
<line x1="181.30" y1="620.50" x2="188.50" y2="620.50" stroke="#111" stroke-width="1.1" />
<line x1="181.30" y1="624.50" x2="188.50" y2="624.50" stroke="#111" stroke-width="1.1" />
<rect x="206.65" y="617.55" width="11.20" height="25.05" fill="#8c8c8c" stroke="#000" stroke-width="1.1" />
<line x1="212.50" y1="610.00" x2="212.50" y2="624.40" stroke="#111" stroke-width="1.1" />
<line x1="208.65" y1="610.50" x2="215.85" y2="610.50" stroke="#111" stroke-width="1.1" />
<line x1="208.65" y1="624.50" x2="215.85" y2="624.50" stroke="#111" stroke-width="1.1" />
<rect x="234.05" y="599.45" width="11.80" height="43.15" fill="#000" stroke="#000" stroke-width="1.1" />
<line x1="239.50" y1="590.30" x2="239.50" y2="598.90" stroke="#111" stroke-width="1.1" />
<line x1="236.35" y1="590.50" x2="243.55" y2="590.50" stroke="#111" stroke-width="1.1" />
<line x1="85.40" y1="655.00" x2="156.60" y2="655.00" stroke="#2c2c2c" stroke-width="1.25" />
<line x1="170.40" y1="655.00" x2="239.30" y2="655.00" stroke="#2c2c2c" stroke-width="1.25" />
<text x="143.00" y="571.50" font-size="12.4" font-weight="bold" text-anchor="start" textLength="50.70" lengthAdjust="spacingAndGlyphs" fill="#000" >GATA-2</text>
<text x="108.30" y="669.50" font-size="13" font-weight="bold" text-anchor="start" textLength="16.50" lengthAdjust="spacingAndGlyphs" fill="#000" >UT</text>
<text x="177.60" y="669.50" font-size="13" font-weight="bold" text-anchor="start" textLength="46.10" lengthAdjust="spacingAndGlyphs" fill="#000" >+ Ara-C</text>
<path d="M240.30,579.30L240.30,575.30M240.30,579.30L243.76,577.30M240.30,579.30L243.76,581.30M240.30,579.30L240.30,583.30M240.30,579.30L236.84,581.30M240.30,579.30L236.84,577.30" stroke="#000" stroke-width="1.35" stroke-linecap="butt" fill="none"/>
<line x1="86.50" y1="703.00" x2="86.50" y2="778.30" stroke="#262626" stroke-width="1.25" />
<line x1="83.30" y1="778.30" x2="254.50" y2="778.30" stroke="#262626" stroke-width="1.5" />
<line x1="83.30" y1="778.50" x2="86.80" y2="778.50" stroke="#262626" stroke-width="1.1" />
<text x="77.60" y="783.20" font-size="12.3" font-weight="bold" text-anchor="end" fill="#000" >0</text>
<line x1="83.30" y1="753.50" x2="86.80" y2="753.50" stroke="#262626" stroke-width="1.1" />
<text x="77.60" y="758.10" font-size="12.3" font-weight="bold" text-anchor="end" fill="#000" >150</text>
<line x1="83.30" y1="728.50" x2="86.80" y2="728.50" stroke="#262626" stroke-width="1.1" />
<text x="77.60" y="733.00" font-size="12.3" font-weight="bold" text-anchor="end" fill="#000" >300</text>
<line x1="83.30" y1="703.50" x2="86.80" y2="703.50" stroke="#262626" stroke-width="1.1" />
<text x="77.60" y="707.90" font-size="12.3" font-weight="bold" text-anchor="end" fill="#000" >450</text>
<line x1="86.50" y1="778.30" x2="86.50" y2="782.30" stroke="#262626" stroke-width="1.2" />
<line x1="114.50" y1="778.30" x2="114.50" y2="782.30" stroke="#262626" stroke-width="1.2" />
<line x1="142.50" y1="778.30" x2="142.50" y2="782.30" stroke="#262626" stroke-width="1.2" />
<line x1="170.50" y1="778.30" x2="170.50" y2="782.30" stroke="#262626" stroke-width="1.2" />
<line x1="198.50" y1="778.30" x2="198.50" y2="782.30" stroke="#262626" stroke-width="1.2" />
<line x1="226.50" y1="778.30" x2="226.50" y2="782.30" stroke="#262626" stroke-width="1.2" />
<line x1="254.50" y1="778.30" x2="254.50" y2="782.30" stroke="#262626" stroke-width="1.2" />
<rect x="95.55" y="739.05" width="10.90" height="39.25" fill="#fff" stroke="#000" stroke-width="1.1" />
<line x1="101.50" y1="732.80" x2="101.50" y2="744.40" stroke="#111" stroke-width="1.1" />
<line x1="97.40" y1="732.50" x2="104.60" y2="732.50" stroke="#111" stroke-width="1.1" />
<line x1="97.40" y1="744.50" x2="104.60" y2="744.50" stroke="#111" stroke-width="1.1" />
<rect x="123.65" y="738.35" width="10.80" height="39.95" fill="#8c8c8c" stroke="#000" stroke-width="1.1" />
<line x1="129.50" y1="730.50" x2="129.50" y2="745.00" stroke="#111" stroke-width="1.1" />
<line x1="125.45" y1="730.50" x2="132.65" y2="730.50" stroke="#111" stroke-width="1.1" />
<line x1="125.45" y1="745.50" x2="132.65" y2="745.50" stroke="#111" stroke-width="1.1" />
<rect x="151.25" y="731.75" width="11.20" height="46.55" fill="#000" stroke="#000" stroke-width="1.1" />
<line x1="156.50" y1="721.30" x2="156.50" y2="731.20" stroke="#111" stroke-width="1.1" />
<line x1="153.25" y1="721.50" x2="160.45" y2="721.50" stroke="#111" stroke-width="1.1" />
<rect x="179.15" y="721.85" width="11.50" height="56.45" fill="#fff" stroke="#000" stroke-width="1.1" />
<line x1="184.50" y1="717.30" x2="184.50" y2="726.20" stroke="#111" stroke-width="1.1" />
<line x1="181.30" y1="717.50" x2="188.50" y2="717.50" stroke="#111" stroke-width="1.1" />
<line x1="181.30" y1="726.50" x2="188.50" y2="726.50" stroke="#111" stroke-width="1.1" />
<rect x="206.65" y="720.85" width="11.20" height="57.45" fill="#8c8c8c" stroke="#000" stroke-width="1.1" />
<line x1="212.50" y1="717.30" x2="212.50" y2="723.00" stroke="#111" stroke-width="1.1" />
<line x1="208.65" y1="717.50" x2="215.85" y2="717.50" stroke="#111" stroke-width="1.1" />
<line x1="208.65" y1="723.50" x2="215.85" y2="723.50" stroke="#111" stroke-width="1.1" />
<rect x="234.05" y="769.85" width="11.80" height="8.45" fill="#000" stroke="#000" stroke-width="1.1" />
<line x1="239.50" y1="761.00" x2="239.50" y2="769.30" stroke="#111" stroke-width="1.1" />
<line x1="236.35" y1="761.50" x2="243.55" y2="761.50" stroke="#111" stroke-width="1.1" />
<line x1="85.40" y1="791.00" x2="156.60" y2="791.00" stroke="#2c2c2c" stroke-width="1.25" />
<line x1="170.40" y1="791.00" x2="239.30" y2="791.00" stroke="#2c2c2c" stroke-width="1.25" />
<text x="143.00" y="709.00" font-size="12.4" font-weight="bold" text-anchor="start" textLength="50.70" lengthAdjust="spacingAndGlyphs" fill="#000" >GATA-1</text>
<text x="108.30" y="805.50" font-size="13" font-weight="bold" text-anchor="start" textLength="16.50" lengthAdjust="spacingAndGlyphs" fill="#000" >UT</text>
<text x="177.60" y="805.50" font-size="13" font-weight="bold" text-anchor="start" textLength="46.10" lengthAdjust="spacingAndGlyphs" fill="#000" >+ Ara-C</text>
<path d="M240.30,749.60L240.30,745.60M240.30,749.60L243.76,747.60M240.30,749.60L243.76,751.60M240.30,749.60L240.30,753.60M240.30,749.60L236.84,751.60M240.30,749.60L236.84,747.60" stroke="#000" stroke-width="1.35" stroke-linecap="butt" fill="none"/>
<line x1="86.50" y1="695.00" x2="86.50" y2="703.00" stroke="#262626" stroke-width="1.1" />
<line x1="378.90" y1="364.20" x2="378.90" y2="449.60" stroke="#111" stroke-width="1.5" />
<line x1="374.90" y1="449.60" x2="560.50" y2="449.60" stroke="#111" stroke-width="1.5" />
<line x1="374.90" y1="449.60" x2="378.90" y2="449.60" stroke="#111" stroke-width="1.4" />
<text x="364.90" y="454.20" font-size="11.7" font-weight="bold" text-anchor="end" textLength="7.55" lengthAdjust="spacingAndGlyphs" fill="#000" >0</text>
<line x1="374.90" y1="428.25" x2="378.90" y2="428.25" stroke="#111" stroke-width="1.4" />
<text x="364.90" y="432.85" font-size="11.7" font-weight="bold" text-anchor="end" textLength="22.65" lengthAdjust="spacingAndGlyphs" fill="#000" >100</text>
<line x1="374.90" y1="406.90" x2="378.90" y2="406.90" stroke="#111" stroke-width="1.4" />
<text x="364.90" y="411.50" font-size="11.7" font-weight="bold" text-anchor="end" textLength="22.65" lengthAdjust="spacingAndGlyphs" fill="#000" >200</text>
<line x1="374.90" y1="385.55" x2="378.90" y2="385.55" stroke="#111" stroke-width="1.4" />
<text x="364.90" y="390.15" font-size="11.7" font-weight="bold" text-anchor="end" textLength="22.65" lengthAdjust="spacingAndGlyphs" fill="#000" >300</text>
<line x1="374.90" y1="364.20" x2="378.90" y2="364.20" stroke="#111" stroke-width="1.4" />
<text x="364.90" y="368.80" font-size="11.7" font-weight="bold" text-anchor="end" textLength="22.65" lengthAdjust="spacingAndGlyphs" fill="#000" >400</text>
<line x1="409.20" y1="449.60" x2="409.20" y2="452.80" stroke="#111" stroke-width="1.3" />
<line x1="439.50" y1="449.60" x2="439.50" y2="452.80" stroke="#111" stroke-width="1.3" />
<line x1="469.80" y1="449.60" x2="469.80" y2="452.80" stroke="#111" stroke-width="1.3" />
<line x1="500.10" y1="449.60" x2="500.10" y2="452.80" stroke="#111" stroke-width="1.3" />
<line x1="530.40" y1="449.60" x2="530.40" y2="452.80" stroke="#111" stroke-width="1.3" />
<line x1="560.70" y1="449.60" x2="560.70" y2="452.80" stroke="#111" stroke-width="1.3" />
<rect x="388.85" y="426.35" width="11.30" height="23.25" fill="#fff" stroke="#000" stroke-width="1.3" />
<line x1="394.50" y1="420.70" x2="394.50" y2="431.40" stroke="#000" stroke-width="1.3" />
<line x1="391.70" y1="420.70" x2="397.30" y2="420.70" stroke="#000" stroke-width="1.3" />
<line x1="391.70" y1="431.40" x2="397.30" y2="431.40" stroke="#000" stroke-width="1.3" />
<rect x="418.15" y="422.15" width="11.20" height="27.45" fill="#7f7f7f" stroke="#000" stroke-width="1.3" />
<line x1="423.75" y1="419.30" x2="423.75" y2="423.50" stroke="#000" stroke-width="1.3" />
<line x1="420.95" y1="419.30" x2="426.55" y2="419.30" stroke="#000" stroke-width="1.3" />
<line x1="420.95" y1="423.50" x2="426.55" y2="423.50" stroke="#000" stroke-width="1.3" />
<rect x="447.35" y="448.65" width="11.50" height="0.95" fill="#000" stroke="#000" stroke-width="1.3" />
<rect x="478.25" y="389.05" width="11.40" height="60.55" fill="#fff" stroke="#000" stroke-width="1.3" />
<line x1="483.95" y1="384.20" x2="483.95" y2="392.10" stroke="#000" stroke-width="1.3" />
<line x1="481.15" y1="384.20" x2="486.75" y2="384.20" stroke="#000" stroke-width="1.3" />
<line x1="481.15" y1="392.10" x2="486.75" y2="392.10" stroke="#000" stroke-width="1.3" />
<rect x="507.85" y="380.35" width="11.10" height="69.25" fill="#7f7f7f" stroke="#000" stroke-width="1.3" />
<line x1="513.40" y1="371.00" x2="513.40" y2="389.00" stroke="#000" stroke-width="1.3" />
<line x1="510.60" y1="371.00" x2="516.20" y2="371.00" stroke="#000" stroke-width="1.3" />
<line x1="510.60" y1="389.00" x2="516.20" y2="389.00" stroke="#000" stroke-width="1.3" />
<rect x="537.15" y="428.05" width="11.60" height="21.55" fill="#000" stroke="#000" stroke-width="1.3" />
<line x1="542.95" y1="423.70" x2="542.95" y2="427.40" stroke="#000" stroke-width="1.3" />
<line x1="540.15" y1="423.70" x2="545.75" y2="423.70" stroke="#000" stroke-width="1.3" />
<line x1="386.60" y1="460.60" x2="462.90" y2="460.60" stroke="#6e6e6e" stroke-width="1.6" />
<line x1="472.30" y1="460.60" x2="548.40" y2="460.60" stroke="#6e6e6e" stroke-width="1.6" />
<text x="444.60" y="372.40" font-size="12.2" font-weight="bold" text-anchor="start" textLength="43.60" lengthAdjust="spacingAndGlyphs" fill="#000" >EpoR-T</text>
<text x="417.00" y="475.70" font-size="12.2" font-weight="bold" text-anchor="start" textLength="16.30" lengthAdjust="spacingAndGlyphs" fill="#000" >UT</text>
<text x="481.90" y="475.70" font-size="12.2" font-weight="bold" text-anchor="start" textLength="45.70" lengthAdjust="spacingAndGlyphs" fill="#000" >+ Ara-C</text>
<path d="M453.90,435.40L453.90,431.40M453.90,435.40L457.36,433.40M453.90,435.40L457.36,437.40M453.90,435.40L453.90,439.40M453.90,435.40L450.44,437.40M453.90,435.40L450.44,433.40" stroke="#000" stroke-width="1.35" stroke-linecap="butt" fill="none"/>
<path d="M542.00,413.50L542.00,409.50M542.00,413.50L545.46,411.50M542.00,413.50L545.46,415.50M542.00,413.50L542.00,417.50M542.00,413.50L538.54,415.50M542.00,413.50L538.54,411.50" stroke="#000" stroke-width="1.35" stroke-linecap="butt" fill="none"/>
<line x1="379.50" y1="498.60" x2="379.50" y2="569.10" stroke="#111" stroke-width="1.5" />
<line x1="375.50" y1="569.10" x2="558.00" y2="569.10" stroke="#111" stroke-width="1.5" />
<line x1="375.50" y1="569.10" x2="379.50" y2="569.10" stroke="#111" stroke-width="1.4" />
<text x="364.90" y="574.10" font-size="12.6" font-weight="bold" text-anchor="end" textLength="7.55" lengthAdjust="spacingAndGlyphs" fill="#000" >0</text>
<line x1="375.50" y1="551.48" x2="379.50" y2="551.48" stroke="#111" stroke-width="1.4" />
<text x="364.90" y="556.48" font-size="12.6" font-weight="bold" text-anchor="end" textLength="15.10" lengthAdjust="spacingAndGlyphs" fill="#000" >20</text>
<line x1="375.50" y1="533.85" x2="379.50" y2="533.85" stroke="#111" stroke-width="1.4" />
<text x="364.90" y="538.85" font-size="12.6" font-weight="bold" text-anchor="end" textLength="15.10" lengthAdjust="spacingAndGlyphs" fill="#000" >40</text>
<line x1="375.50" y1="516.23" x2="379.50" y2="516.23" stroke="#111" stroke-width="1.4" />
<text x="364.90" y="521.23" font-size="12.6" font-weight="bold" text-anchor="end" textLength="15.10" lengthAdjust="spacingAndGlyphs" fill="#000" >60</text>
<line x1="375.50" y1="498.60" x2="379.50" y2="498.60" stroke="#111" stroke-width="1.4" />
<text x="364.90" y="503.60" font-size="12.6" font-weight="bold" text-anchor="end" textLength="15.10" lengthAdjust="spacingAndGlyphs" fill="#000" >80</text>
<line x1="409.20" y1="569.10" x2="409.20" y2="572.30" stroke="#111" stroke-width="1.3" />
<line x1="438.90" y1="569.10" x2="438.90" y2="572.30" stroke="#111" stroke-width="1.3" />
<line x1="468.60" y1="569.10" x2="468.60" y2="572.30" stroke="#111" stroke-width="1.3" />
<line x1="498.30" y1="569.10" x2="498.30" y2="572.30" stroke="#111" stroke-width="1.3" />
<line x1="528.00" y1="569.10" x2="528.00" y2="572.30" stroke="#111" stroke-width="1.3" />
<line x1="557.70" y1="569.10" x2="557.70" y2="572.30" stroke="#111" stroke-width="1.3" />
<rect x="388.85" y="566.55" width="11.30" height="2.55" fill="#fff" stroke="#000" stroke-width="1.3" />
<line x1="394.50" y1="564.20" x2="394.50" y2="567.20" stroke="#000" stroke-width="1.3" />
<line x1="391.70" y1="564.20" x2="397.30" y2="564.20" stroke="#000" stroke-width="1.3" />
<rect x="418.15" y="559.85" width="11.20" height="9.25" fill="#7f7f7f" stroke="#000" stroke-width="1.3" />
<line x1="423.75" y1="554.30" x2="423.75" y2="566.00" stroke="#000" stroke-width="1.3" />
<line x1="420.95" y1="554.30" x2="426.55" y2="554.30" stroke="#000" stroke-width="1.3" />
<line x1="420.95" y1="566.00" x2="426.55" y2="566.00" stroke="#000" stroke-width="1.3" />
<rect x="447.35" y="567.85" width="11.50" height="1.25" fill="#000" stroke="#000" stroke-width="1.3" />
<line x1="453.10" y1="565.40" x2="453.10" y2="567.20" stroke="#000" stroke-width="1.3" />
<line x1="450.30" y1="565.40" x2="455.90" y2="565.40" stroke="#000" stroke-width="1.3" />
<rect x="478.25" y="521.65" width="11.40" height="47.45" fill="#fff" stroke="#000" stroke-width="1.3" />
<line x1="483.95" y1="514.80" x2="483.95" y2="527.70" stroke="#000" stroke-width="1.3" />
<line x1="481.15" y1="514.80" x2="486.75" y2="514.80" stroke="#000" stroke-width="1.3" />
<line x1="481.15" y1="527.70" x2="486.75" y2="527.70" stroke="#000" stroke-width="1.3" />
<rect x="507.85" y="540.25" width="11.10" height="28.85" fill="#7f7f7f" stroke="#000" stroke-width="1.3" />
<line x1="513.40" y1="531.40" x2="513.40" y2="547.50" stroke="#000" stroke-width="1.3" />
<line x1="510.60" y1="531.40" x2="516.20" y2="531.40" stroke="#000" stroke-width="1.3" />
<line x1="510.60" y1="547.50" x2="516.20" y2="547.50" stroke="#000" stroke-width="1.3" />
<rect x="537.15" y="566.85" width="11.60" height="2.25" fill="#000" stroke="#000" stroke-width="1.3" />
<line x1="542.95" y1="563.70" x2="542.95" y2="566.20" stroke="#000" stroke-width="1.3" />
<line x1="540.15" y1="563.70" x2="545.75" y2="563.70" stroke="#000" stroke-width="1.3" />
<line x1="386.60" y1="581.80" x2="459.60" y2="581.80" stroke="#6e6e6e" stroke-width="1.6" />
<line x1="472.30" y1="581.80" x2="549.00" y2="581.80" stroke="#6e6e6e" stroke-width="1.6" />
<text x="446.20" y="504.60" font-size="12.2" font-weight="bold" text-anchor="start" textLength="43.30" lengthAdjust="spacingAndGlyphs" fill="#000" >EpoR-F</text>
<text x="417.30" y="596.60" font-size="12.2" font-weight="bold" text-anchor="start" textLength="15.50" lengthAdjust="spacingAndGlyphs" fill="#000" >UT</text>
<text x="487.60" y="596.60" font-size="12.2" font-weight="bold" text-anchor="start" textLength="47.60" lengthAdjust="spacingAndGlyphs" fill="#000" >+ Ara-C</text>
<path d="M541.40,554.70L541.40,550.70M541.40,554.70L544.86,552.70M541.40,554.70L544.86,556.70M541.40,554.70L541.40,558.70M541.40,554.70L537.94,556.70M541.40,554.70L537.94,552.70" stroke="#000" stroke-width="1.35" stroke-linecap="butt" fill="none"/>
<text x="417.20" y="623.90" font-size="12.2" font-weight="bold" text-anchor="start" textLength="15.80" lengthAdjust="spacingAndGlyphs" fill="#000" >UT</text>
<text x="489.30" y="623.90" font-size="12.2" font-weight="bold" text-anchor="start" textLength="46.00" lengthAdjust="spacingAndGlyphs" fill="#000" >+ Ara-C</text>
<line x1="390.30" y1="631.00" x2="466.00" y2="631.00" stroke="#6e6e6e" stroke-width="1.6" />
<line x1="477.60" y1="631.00" x2="554.00" y2="631.00" stroke="#6e6e6e" stroke-width="1.6" />
<rect x="389.50" y="637.30" width="167.70" height="24.80" fill="url(#gs1)"  />
<rect x="389.50" y="666.90" width="167.70" height="24.70" fill="url(#gs2)"  />
<rect x="389.50" y="695.80" width="167.70" height="27.80" fill="url(#gs3)"  />
<rect x="389.50" y="728.00" width="167.70" height="37.20" fill="url(#ge)"  />
<rect x="389.50" y="768.40" width="167.70" height="32.10" fill="url(#gs5)"  />
<path d="M445.8,648.60 Q455.0,648.60 464.2,648.60" stroke="#ffffff" stroke-width="8.10" stroke-linecap="round" fill="none" opacity="0.090" filter="url(#b3)"/>
<path d="M445.8,648.60 Q455.0,648.60 464.2,648.60" stroke="#ffffff" stroke-width="4.50" stroke-linecap="round" fill="none" opacity="0.100" filter="url(#b1)"/>
<path d="M532.9,651.30 Q541.5,651.30 550.1,651.30" stroke="#ffffff" stroke-width="9.24" stroke-linecap="round" fill="none" opacity="0.259" filter="url(#b3)"/>
<path d="M532.9,651.30 Q541.5,651.30 550.1,651.30" stroke="#ffffff" stroke-width="4.20" stroke-linecap="round" fill="none" opacity="0.740" filter="url(#b1)"/>
<path d="M485.0,656.60 Q485.9,656.60 486.7,656.60" stroke="#ffffff" stroke-width="1.60" stroke-linecap="round" fill="none" opacity="0.350" filter="url(#b1)"/>
<path d="M391.4,683.00 Q398.1,683.00 404.9,683.00" stroke="#ffffff" stroke-width="6.40" stroke-linecap="round" fill="none" opacity="0.180" filter="url(#b3)"/>
<path d="M391.4,683.00 Q398.1,683.00 404.9,683.00" stroke="#ffffff" stroke-width="3.20" stroke-linecap="round" fill="none" opacity="0.360" filter="url(#b1)"/>
<path d="M416.4,682.00 Q424.3,682.00 432.2,682.00" stroke="#ffffff" stroke-width="6.40" stroke-linecap="round" fill="none" opacity="0.200" filter="url(#b3)"/>
<path d="M416.4,682.00 Q424.3,682.00 432.2,682.00" stroke="#ffffff" stroke-width="3.20" stroke-linecap="round" fill="none" opacity="0.400" filter="url(#b1)"/>
<path d="M445.1,681.20 Q451.5,681.20 457.9,681.20" stroke="#ffffff" stroke-width="6.40" stroke-linecap="round" fill="none" opacity="0.110" filter="url(#b3)"/>
<path d="M445.1,681.20 Q451.5,681.20 457.9,681.20" stroke="#ffffff" stroke-width="3.20" stroke-linecap="round" fill="none" opacity="0.220" filter="url(#b1)"/>
<path d="M472.8,680.60 Q481.7,680.60 490.6,680.60" stroke="#ffffff" stroke-width="6.40" stroke-linecap="round" fill="none" opacity="0.170" filter="url(#b3)"/>
<path d="M472.8,680.60 Q481.7,680.60 490.6,680.60" stroke="#ffffff" stroke-width="3.20" stroke-linecap="round" fill="none" opacity="0.340" filter="url(#b1)"/>
<path d="M502.6,680.60 Q511.5,680.60 520.4,680.60" stroke="#ffffff" stroke-width="6.40" stroke-linecap="round" fill="none" opacity="0.150" filter="url(#b3)"/>
<path d="M502.6,680.60 Q511.5,680.60 520.4,680.60" stroke="#ffffff" stroke-width="3.20" stroke-linecap="round" fill="none" opacity="0.300" filter="url(#b1)"/>
<path d="M532.5,680.90 Q542.4,680.90 552.3,680.90" stroke="#ffffff" stroke-width="10.44" stroke-linecap="round" fill="none" opacity="0.400" filter="url(#b3)"/>
<path d="M532.5,680.90 Q542.4,680.90 552.3,680.90" stroke="#ffffff" stroke-width="5.80" stroke-linecap="round" fill="none" opacity="1.000" filter="url(#b1)"/>
<path d="M391.9,711.00 Q400.5,711.00 409.1,711.00" stroke="#ffffff" stroke-width="7.98" stroke-linecap="round" fill="none" opacity="0.340" filter="url(#b3)"/>
<path d="M391.9,711.00 Q400.5,711.00 409.1,711.00" stroke="#ffffff" stroke-width="3.80" stroke-linecap="round" fill="none" opacity="0.850" filter="url(#b1)"/>
<path d="M419.4,710.00 Q428.6,710.00 437.9,710.00" stroke="#ffffff" stroke-width="7.98" stroke-linecap="round" fill="none" opacity="0.400" filter="url(#b3)"/>
<path d="M419.4,710.00 Q428.6,710.00 437.9,710.00" stroke="#ffffff" stroke-width="3.80" stroke-linecap="round" fill="none" opacity="1.000" filter="url(#b1)"/>
<path d="M448.1,709.60 Q456.4,709.60 464.6,709.60" stroke="#ffffff" stroke-width="7.98" stroke-linecap="round" fill="none" opacity="0.320" filter="url(#b3)"/>
<path d="M448.1,709.60 Q456.4,709.60 464.6,709.60" stroke="#ffffff" stroke-width="3.80" stroke-linecap="round" fill="none" opacity="0.800" filter="url(#b1)"/>
<path d="M476.4,709.50 Q485.6,709.50 494.7,709.50" stroke="#ffffff" stroke-width="7.98" stroke-linecap="round" fill="none" opacity="0.400" filter="url(#b3)"/>
<path d="M476.4,709.50 Q485.6,709.50 494.7,709.50" stroke="#ffffff" stroke-width="3.80" stroke-linecap="round" fill="none" opacity="1.000" filter="url(#b1)"/>
<path d="M505.1,709.90 Q514.2,709.90 523.3,709.90" stroke="#ffffff" stroke-width="7.98" stroke-linecap="round" fill="none" opacity="0.400" filter="url(#b3)"/>
<path d="M505.1,709.90 Q514.2,709.90 523.3,709.90" stroke="#ffffff" stroke-width="3.80" stroke-linecap="round" fill="none" opacity="1.000" filter="url(#b1)"/>
<path d="M534.9,711.00 Q543.4,711.00 551.9,711.00" stroke="#ffffff" stroke-width="7.98" stroke-linecap="round" fill="none" opacity="0.240" filter="url(#b3)"/>
<path d="M534.9,711.00 Q543.4,711.00 551.9,711.00" stroke="#ffffff" stroke-width="3.80" stroke-linecap="round" fill="none" opacity="0.600" filter="url(#b1)"/>
<path d="M392.0,742.70 Q400.4,742.70 408.8,742.70" stroke="#ffffff" stroke-width="8.80" stroke-linecap="round" fill="none" opacity="0.330" filter="url(#b3)"/>
<path d="M392.0,742.70 Q400.4,742.70 408.8,742.70" stroke="#ffffff" stroke-width="4.40" stroke-linecap="round" fill="none" opacity="0.550" filter="url(#b1)"/>
<path d="M419.0,742.20 Q428.2,742.20 437.5,742.20" stroke="#ffffff" stroke-width="10.00" stroke-linecap="round" fill="none" opacity="0.450" filter="url(#b3)"/>
<path d="M419.0,742.20 Q428.2,742.20 437.5,742.20" stroke="#ffffff" stroke-width="5.00" stroke-linecap="round" fill="none" opacity="0.900" filter="url(#b1)"/>
<path d="M451.0,742.70 Q456.5,742.70 462.0,742.70" stroke="#ffffff" stroke-width="8.00" stroke-linecap="round" fill="none" opacity="0.070" filter="url(#b3)"/>
<path d="M451.0,742.70 Q456.5,742.70 462.0,742.70" stroke="#ffffff" stroke-width="4.00" stroke-linecap="round" fill="none" opacity="0.070" filter="url(#b1)"/>
<path d="M478.7,743.40 Q485.5,743.40 492.3,743.40" stroke="#ffffff" stroke-width="14.40" stroke-linecap="round" fill="none" opacity="0.600" filter="url(#b3)"/>
<path d="M478.7,743.40 Q485.5,743.40 492.3,743.40" stroke="#ffffff" stroke-width="9.00" stroke-linecap="round" fill="none" opacity="1.000" filter="url(#b1)"/>
<path d="M478.0,753.90 Q485.1,753.90 492.3,753.90" stroke="#ffffff" stroke-width="8.80" stroke-linecap="round" fill="none" opacity="0.350" filter="url(#b3)"/>
<path d="M478.0,753.90 Q485.1,753.90 492.3,753.90" stroke="#ffffff" stroke-width="4.40" stroke-linecap="round" fill="none" opacity="0.700" filter="url(#b1)"/>
<path d="M506.4,741.80 Q514.9,741.80 523.4,741.80" stroke="#ffffff" stroke-width="12.92" stroke-linecap="round" fill="none" opacity="0.600" filter="url(#b3)"/>
<path d="M506.4,741.80 Q514.9,741.80 523.4,741.80" stroke="#ffffff" stroke-width="7.60" stroke-linecap="round" fill="none" opacity="1.000" filter="url(#b1)"/>
<path d="M507.8,752.50 Q515.0,752.50 522.2,752.50" stroke="#ffffff" stroke-width="7.20" stroke-linecap="round" fill="none" opacity="0.060" filter="url(#b3)"/>
<path d="M507.8,752.50 Q515.0,752.50 522.2,752.50" stroke="#ffffff" stroke-width="3.60" stroke-linecap="round" fill="none" opacity="0.060" filter="url(#b1)"/>
<path d="M535.1,742.20 Q544.0,742.20 552.9,742.20" stroke="#ffffff" stroke-width="8.40" stroke-linecap="round" fill="none" opacity="0.266" filter="url(#b3)"/>
<path d="M535.1,742.20 Q544.0,742.20 552.9,742.20" stroke="#ffffff" stroke-width="4.20" stroke-linecap="round" fill="none" opacity="0.380" filter="url(#b1)"/>
<path d="M391.2,784.40 Q400.5,786.20 409.8,784.40" stroke="#ffffff" stroke-width="6.21" stroke-linecap="round" fill="none" opacity="0.291" filter="url(#b3)"/>
<path d="M391.2,784.40 Q400.5,786.20 409.8,784.40" stroke="#ffffff" stroke-width="2.70" stroke-linecap="round" fill="none" opacity="0.970" filter="url(#b1)"/>
<path d="M417.7,784.40 Q428.1,786.20 438.6,784.40" stroke="#ffffff" stroke-width="6.21" stroke-linecap="round" fill="none" opacity="0.291" filter="url(#b3)"/>
<path d="M417.7,784.40 Q428.1,786.20 438.6,784.40" stroke="#ffffff" stroke-width="2.70" stroke-linecap="round" fill="none" opacity="0.970" filter="url(#b1)"/>
<path d="M445.4,784.40 Q455.3,786.20 465.2,784.40" stroke="#ffffff" stroke-width="6.21" stroke-linecap="round" fill="none" opacity="0.291" filter="url(#b3)"/>
<path d="M445.4,784.40 Q455.3,786.20 465.2,784.40" stroke="#ffffff" stroke-width="2.70" stroke-linecap="round" fill="none" opacity="0.970" filter="url(#b1)"/>
<path d="M474.9,784.40 Q484.4,786.20 494.0,784.40" stroke="#ffffff" stroke-width="6.21" stroke-linecap="round" fill="none" opacity="0.255" filter="url(#b3)"/>
<path d="M474.9,784.40 Q484.4,786.20 494.0,784.40" stroke="#ffffff" stroke-width="2.70" stroke-linecap="round" fill="none" opacity="0.850" filter="url(#b1)"/>
<path d="M503.4,784.40 Q513.0,786.20 522.6,784.40" stroke="#ffffff" stroke-width="6.21" stroke-linecap="round" fill="none" opacity="0.255" filter="url(#b3)"/>
<path d="M503.4,784.40 Q513.0,786.20 522.6,784.40" stroke="#ffffff" stroke-width="2.70" stroke-linecap="round" fill="none" opacity="0.850" filter="url(#b1)"/>
<path d="M533.1,784.40 Q542.8,786.20 552.4,784.40" stroke="#ffffff" stroke-width="6.21" stroke-linecap="round" fill="none" opacity="0.270" filter="url(#b3)"/>
<path d="M533.1,784.40 Q542.8,786.20 552.4,784.40" stroke="#ffffff" stroke-width="2.70" stroke-linecap="round" fill="none" opacity="0.900" filter="url(#b1)"/>
<text x="340.80" y="656.50" font-size="13.3" font-weight="bold" text-anchor="start" textLength="39.60" lengthAdjust="spacingAndGlyphs" fill="#000" >c-Myb</text>
<text x="333.70" y="688.00" font-size="13.3" font-weight="bold" text-anchor="start" textLength="47.40" lengthAdjust="spacingAndGlyphs" fill="#000" >GATA-2</text>
<text x="333.70" y="716.80" font-size="13.3" font-weight="bold" text-anchor="start" textLength="47.40" lengthAdjust="spacingAndGlyphs" fill="#000" >GATA-1</text>
<text x="346.70" y="749.10" font-size="13.3" font-weight="bold" text-anchor="start" textLength="32.60" lengthAdjust="spacingAndGlyphs" fill="#000" >EpoR</text>
<text x="336.80" y="793.00" font-size="13.3" font-weight="bold" text-anchor="start" textLength="44.80" lengthAdjust="spacingAndGlyphs" fill="#000" >G3PDH</text>
<path d="M564.6,740.8 L568.8,737.7 L568.8,739.35 L576.2,739.35 L576.2,742.25 L568.8,742.25 L568.8,743.9 Z" fill="#000"/>
<path d="M564.6,755.0 L568.8,751.9 L568.8,753.55 L576.2,753.55 L576.2,756.45 L568.8,756.45 L568.8,758.1 Z" fill="#000"/>
<text x="579.50" y="744.70" font-size="10.8" font-weight="bold" text-anchor="start" textLength="6.50" lengthAdjust="spacingAndGlyphs" fill="#000" >T</text>
<text x="579.80" y="758.30" font-size="10.8" font-weight="bold" text-anchor="start" textLength="5.80" lengthAdjust="spacingAndGlyphs" fill="#000" >F</text>
</svg></body></html>
